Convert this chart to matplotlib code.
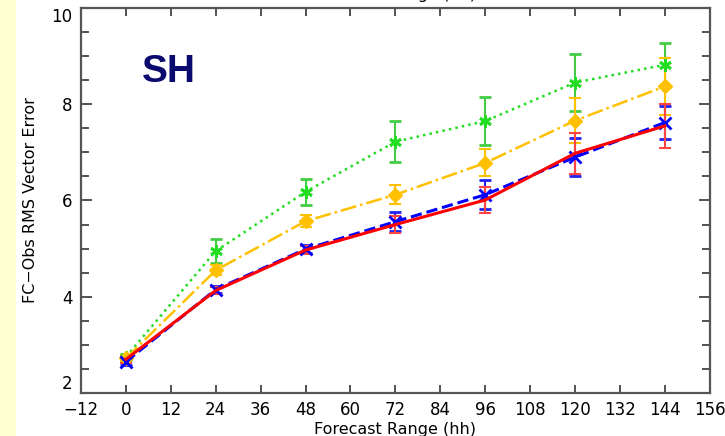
import matplotlib.pyplot as plt
import matplotlib.patches as mpatches

hours = [0, 24, 48, 72, 96, 120, 144]

green = [2.75, 4.95, 6.18, 7.22, 7.65, 8.45, 8.82]
green_err = [0.06, 0.25, 0.27, 0.43, 0.5, 0.6, 0.46]

yellow = [2.72, 4.55, 5.57, 6.12, 6.78, 7.66, 8.37]
yellow_err = [0.06, 0.1, 0.12, 0.2, 0.28, 0.47, 0.6]

blue = [2.65, 4.15, 4.99, 5.56, 6.12, 6.9, 7.62]
blue_err = [0.07, 0.07, 0.08, 0.2, 0.3, 0.4, 0.35]

red = [2.7, 4.13, 4.97, 5.5, 6.01, 6.98, 7.55]
red_err = [0.07, 0.07, 0.08, 0.17, 0.27, 0.42, 0.45]

xticks = list(range(-12, 157, 12))
yticks = [2, 4, 6, 8, 10]

fig = plt.figure(figsize=(7.25, 4.36), dpi=100)
fig.patches.append(mpatches.Rectangle((0, 0), 15 / 725, 1, transform=fig.transFigure,
                                      color='#FFFFD2', zorder=0))
ax = fig.add_axes([0.1117, 0.0986, 0.8673, 0.8831])

ax.errorbar(hours, green, yerr=green_err, color='#22DD22', ls=':', lw=1.8,
            marker=(6, 2, 0), ms=9, mew=2, ecolor='#44CC44', elinewidth=1.5,
            capsize=4, capthick=1.5)
ax.errorbar(hours, yellow, yerr=yellow_err, color='#FFC000', ls='-.', lw=1.8,
            marker='D', ms=7, ecolor='#FFC000', elinewidth=1.5,
            capsize=4, capthick=1.5)
ax.errorbar(hours, blue, yerr=blue_err, color='#0000FF', ls='--', lw=2.2,
            marker='x', ms=9, mew=2, ecolor='#2222EE', elinewidth=1.5,
            capsize=4, capthick=1.5)
ax.errorbar(hours, red, yerr=red_err, color='#FF0000', ls='-', lw=2.2,
            marker='', ecolor='#FF4444', elinewidth=1.5,
            capsize=4, capthick=1.5)

ax.set_xlim(-12, 156)
ax.set_ylim(2, 10)
ax.set_xticks(xticks)
ax.set_xticklabels([str(t).replace('-', '\u2212') for t in xticks])
ax.set_yticks(yticks)
ax.set_yticks([2.5 + 0.5 * i for i in range(16) if (2.5 + 0.5 * i) % 2 != 0], minor=True)
ax.tick_params(which='both', direction='in', top=True, right=True, color='#444444',
               labelsize=12, pad=6)
ax.tick_params(which='major', length=8, width=1.3)
ax.tick_params(which='minor', length=6, width=1.3)
ax.tick_params(axis='x', which='major', length=6)
for s in ax.spines.values():
    s.set_color('#555555')
    s.set_linewidth(1.6)

# end labels of the y axis sit inside the axis range
ylabels = ax.get_yticklabels()
ylabels[0].set_va('bottom')
ylabels[-1].set_va('top')

ax.set_xlabel('Forecast Range (hh)', fontsize=11.5, labelpad=2)
ax.set_ylabel('FC\u2212Obs RMS Vector Error', fontsize=11.5, labelpad=10)

ax.text(0.097, 0.808, 'SH', transform=ax.transAxes, fontsize=28, fontweight='bold',
        family='Liberation Sans', color='#0A0A6E', va='baseline')

# clipped label of the panel above
fig.text(0.545, 1 + 1.5 / 436, 'Forecast Range (hh)', fontsize=11.5, ha='center',
         va='baseline')

fig.savefig('out.png', dpi=100)
